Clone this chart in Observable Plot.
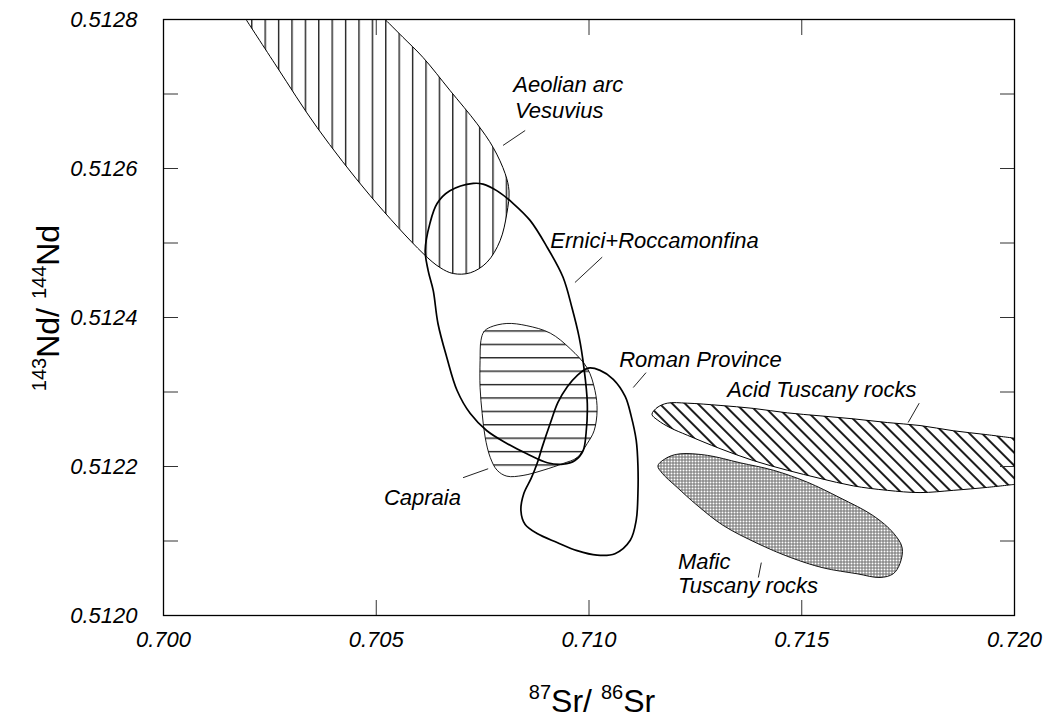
<!DOCTYPE html>
<html>
<head>
<meta charset="utf-8">
<script src="https://cdn.jsdelivr.net/npm/d3@7"></script>
<script src="https://cdn.jsdelivr.net/npm/@observablehq/plot@0.6"></script>
<style>
  body { margin: 0; background: #fff; }
  #chart svg { display: block; }
</style>
</head>
<body>
<div id="chart"></div>
<script>
// Axis domains and ticks
const srDomain = [0.700, 0.720];
const ndDomain = [0.5120, 0.5128];
const srTicks = [0.700, 0.705, 0.710, 0.715, 0.720];
const ndTicks = [0.5120, 0.5121, 0.5122, 0.5123, 0.5124, 0.5125, 0.5126, 0.5127, 0.5128];
const ndTickLabels = ["0.5120", "", "0.5122", "", "0.5124", "", "0.5126", "", "0.5128"];

// Field outlines: [87Sr/86Sr, 143Nd/144Nd]  (repeated vertex = sharp corner)
const aeolianVesuvius = [
  [0.70194, 0.51280], [0.70194, 0.51280], [0.70267, 0.512736], [0.70361, 0.512655], [0.70485, 0.512564],
  [0.70610, 0.512486], [0.70650, 0.512467], [0.70681, 0.512459], [0.70721, 0.512460],
  [0.70760, 0.512474], [0.70791, 0.512503], [0.70807, 0.512540], [0.70812, 0.512570],
  [0.70803, 0.512593], [0.70775, 0.512628], [0.70737, 0.512660], [0.70673, 0.512705],
  [0.70610, 0.512749], [0.70563, 0.512776], [0.70521, 0.51280], [0.70521, 0.51280], [0.70360, 0.51280]
];
const erniciRoccamonfina = [
  [0.70728, 0.512580], [0.70673, 0.512570], [0.70643, 0.512553], [0.70626, 0.512526],
  [0.70615, 0.512490], [0.70622, 0.512463], [0.70634, 0.512436], [0.70645, 0.512392],
  [0.70666, 0.512346], [0.70690, 0.512302], [0.70721, 0.512271], [0.70760, 0.512248],
  [0.70807, 0.512231], [0.70854, 0.512217], [0.70902, 0.512205], [0.70939, 0.512203],
  [0.70967, 0.512208], [0.70986, 0.512221], [0.70993, 0.512244], [0.70996, 0.512285],
  [0.70988, 0.512333], [0.70977, 0.512373], [0.70960, 0.512413], [0.70939, 0.512454],
  [0.70902, 0.512494], [0.70862, 0.512530], [0.70822, 0.512553], [0.70784, 0.512570],
  [0.70751, 0.512579]
];
const capraia = [
  [0.70746, 0.512369], [0.70753, 0.512381], [0.70768, 0.512387], [0.70807, 0.512392],
  [0.70854, 0.512389], [0.70909, 0.512379], [0.70956, 0.512358], [0.70996, 0.512332],
  [0.71014, 0.512302], [0.71019, 0.512275], [0.71012, 0.512248], [0.70996, 0.512231],
  [0.70972, 0.512212], [0.70939, 0.512204], [0.70892, 0.512195], [0.70845, 0.512188],
  [0.70807, 0.512187], [0.70784, 0.512195], [0.70768, 0.512212], [0.70756, 0.512239],
  [0.70749, 0.512271], [0.70744, 0.512306], [0.70744, 0.512342]
];
const romanProvince = [
  [0.70998, 0.512332], [0.71026, 0.512329], [0.71057, 0.512317], [0.71085, 0.512294],
  [0.71099, 0.512268], [0.71111, 0.512235], [0.71115, 0.512201], [0.71115, 0.512164],
  [0.71111, 0.512128], [0.71097, 0.512101], [0.71061, 0.512083], [0.71019, 0.512081],
  [0.70972, 0.512087], [0.70925, 0.512098], [0.70878, 0.512110], [0.70850, 0.512122],
  [0.70840, 0.512141], [0.70847, 0.512164], [0.70864, 0.512184], [0.70878, 0.512204],
  [0.70890, 0.512226], [0.70909, 0.512258], [0.70927, 0.512286], [0.70949, 0.512307],
  [0.70972, 0.512322]
];
const acidTuscany = [
  [0.71148, 0.512270], [0.71160, 0.512279], [0.71184, 0.512285], [0.71231, 0.512285],
  [0.71308, 0.512282], [0.71386, 0.512278], [0.71466, 0.512272], [0.71543, 0.512268],
  [0.71621, 0.512264], [0.71701, 0.512259], [0.71778, 0.512255], [0.71856, 0.512248],
  [0.71931, 0.512243], [0.72000, 0.512238], [0.72000, 0.512238], [0.72000, 0.512176],
  [0.72000, 0.512176], [0.71936, 0.512172], [0.71856, 0.512168], [0.71778, 0.512165], [0.71701, 0.512168],
  [0.71621, 0.512174], [0.71543, 0.512184], [0.71466, 0.512195], [0.71386, 0.512208],
  [0.71308, 0.512224], [0.71231, 0.512242], [0.71191, 0.512252], [0.71162, 0.512262]
];
const maficTuscany = [
  [0.71162, 0.512201], [0.71184, 0.512212], [0.71214, 0.512217], [0.71278, 0.512215],
  [0.71355, 0.512205], [0.71433, 0.512195], [0.71513, 0.512179], [0.71590, 0.512158],
  [0.71668, 0.512134], [0.71715, 0.512111], [0.71736, 0.512091], [0.71731, 0.512070],
  [0.71715, 0.512056], [0.71684, 0.512051], [0.71630, 0.512056], [0.71550, 0.512064],
  [0.71473, 0.512078], [0.71395, 0.512097], [0.71315, 0.512121], [0.71254, 0.512148],
  [0.71207, 0.512172], [0.71172, 0.512191]
];

// Field labels (left end of text baseline)
const labelText = ["Aeolian arc", "Vesuvius", "Ernici+Roccamonfina", "Roman Province",
  "Acid Tuscany rocks", "Capraia", "Mafic", "Tuscany rocks"];
const labelSr = [0.70822, 0.70826, 0.70909, 0.71071, 0.71325, 0.70518, 0.71209, 0.71209];
const labelNd = [0.512703, 0.512668, 0.512493, 0.512333, 0.512293, 0.512148, 0.512063, 0.512030];

// Leader lines from labels to fields
const leaderSr1 = [0.70798, 0.70967, 0.71104, 0.71750, 0.70704, 0.71398];
const leaderNd1 = [0.512631, 0.512447, 0.512306, 0.512259, 0.512185, 0.512051];
const leaderSr2 = [0.70850, 0.71031, 0.71134, 0.71776, 0.70763, 0.71405];
const leaderNd2 = [0.512651, 0.512481, 0.512326, 0.512285, 0.512197, 0.512071];

const labels = labelText.map((t, i) => ({t, x: labelSr[i], y: labelNd[i]}));
const leaders = leaderSr1.map((x1, i) => ({x1, y1: leaderNd1[i], x2: leaderSr2[i], y2: leaderNd2[i]}));

const FONT = "'Liberation Sans', Arial, Helvetica, sans-serif";
const field = (data, fill, sw = 1) => Plot.line(data, {
  x: d => d[0], y: d => d[1], curve: "catmull-rom-closed",
  fill, stroke: "black", strokeWidth: sw, clip: true
});

const chart = Plot.plot({
  width: 1043,
  height: 723,
  marginLeft: 163,
  marginRight: 29,
  marginTop: 19,
  marginBottom: 108,
  style: {fontFamily: FONT, background: "#fff"},
  x: {domain: srDomain, label: null},
  y: {domain: ndDomain, label: null},
  marks: [
    field(aeolianVesuvius, "url(#vhatch)", 1),
    field(capraia, "url(#hhatch)", 0.9),
    field(acidTuscany, "url(#dhatch)", 1),
    field(maficTuscany, "url(#dots)", 0.9),
    field(erniciRoccamonfina, "none", 1.7),
    field(romanProvince, "none", 1.7),
    Plot.link(leaders, {x1: "x1", y1: "y1", x2: "x2", y2: "y2", stroke: "#222", strokeWidth: 1}),
    Plot.text(labels, {x: "x", y: "y", text: "t", textAnchor: "start", lineAnchor: "bottom",
      fontSize: 22, fontStyle: "italic", fill: "black"}),
    Plot.axisX(srTicks, {anchor: "bottom", tickSize: -15, tickPadding: 31, label: null,
      tickFormat: d3.format(".3f"), fontSize: 22, fontStyle: "italic", fill: "black", stroke: "#333"}),
    Plot.axisX(srTicks, {anchor: "top", tickSize: -15, label: null, tickFormat: () => "", stroke: "#333"}),
    Plot.axisY(ndTicks, {anchor: "left", tickSize: -15, tickPadding: 41, label: null,
      tickFormat: (d, i) => ndTickLabels[i], fontSize: 22, fontStyle: "italic", fill: "black", stroke: "#333"}),
    Plot.axisY(ndTicks, {anchor: "right", tickSize: -15, label: null, tickFormat: () => "", stroke: "#333"}),
    Plot.frame({stroke: "black", strokeWidth: 1.3})
  ]
});

// hatch patterns
const svg = d3.select(chart);
const defs = svg.insert("defs", ":first-child");
const vh = defs.append("pattern").attr("id", "vhatch").attr("patternUnits", "userSpaceOnUse")
  .attr("width", 13.4).attr("height", 20).attr("x", 9.4);
vh.append("rect").attr("width", 13.4).attr("height", 20).attr("fill", "white");
vh.append("line").attr("x1", 0.7).attr("x2", 0.7).attr("y1", 0).attr("y2", 20).attr("stroke", "#111").attr("stroke-width", 1.3);
const hh = defs.append("pattern").attr("id", "hhatch").attr("patternUnits", "userSpaceOnUse")
  .attr("width", 20).attr("height", 13.4).attr("y", 8.2);
hh.append("rect").attr("width", 20).attr("height", 13.4).attr("fill", "white");
hh.append("line").attr("y1", 0.7).attr("y2", 0.7).attr("x1", 0).attr("x2", 20).attr("stroke", "#111").attr("stroke-width", 1.3);
const dh = defs.append("pattern").attr("id", "dhatch").attr("patternUnits", "userSpaceOnUse")
  .attr("width", 9).attr("height", 20).attr("patternTransform", "rotate(-45)");
dh.append("rect").attr("width", 9).attr("height", 20).attr("fill", "white");
dh.append("line").attr("x1", 1).attr("x2", 1).attr("y1", 0).attr("y2", 20).attr("stroke", "#111").attr("stroke-width", 1.9);
const dt = defs.append("pattern").attr("id", "dots").attr("patternUnits", "userSpaceOnUse")
  .attr("width", 3).attr("height", 3);
dt.append("rect").attr("width", 3).attr("height", 3).attr("fill", "white");
dt.append("path").attr("d", "M0 0.5H3M0.5 0V3").attr("stroke", "#6f6f6f").attr("stroke-width", 1);

// Axis titles with superscripts
const xt = svg.append("text").attr("x", 592).attr("y", 712).attr("text-anchor", "middle")
  .attr("font-family", FONT).attr("font-size", 32).attr("fill", "black");
xt.append("tspan").attr("font-size", 20).attr("dy", -13).text("87");
xt.append("tspan").attr("dy", 13).text("Sr/ ");
xt.append("tspan").attr("font-size", 20).attr("dy", -13).text("86");
xt.append("tspan").attr("dy", 13).text("Sr");

const yt = svg.append("text").attr("transform", "translate(59,308) rotate(-90)").attr("text-anchor", "middle")
  .attr("font-family", FONT).attr("font-size", 32).attr("fill", "black");
yt.append("tspan").attr("font-size", 20).attr("dy", -13).text("143");
yt.append("tspan").attr("dy", 13).text("Nd/ ");
yt.append("tspan").attr("font-size", 20).attr("dy", -13).text("144");
yt.append("tspan").attr("dy", 13).text("Nd");

document.getElementById("chart").appendChild(chart);
</script>
</body>
</html>
